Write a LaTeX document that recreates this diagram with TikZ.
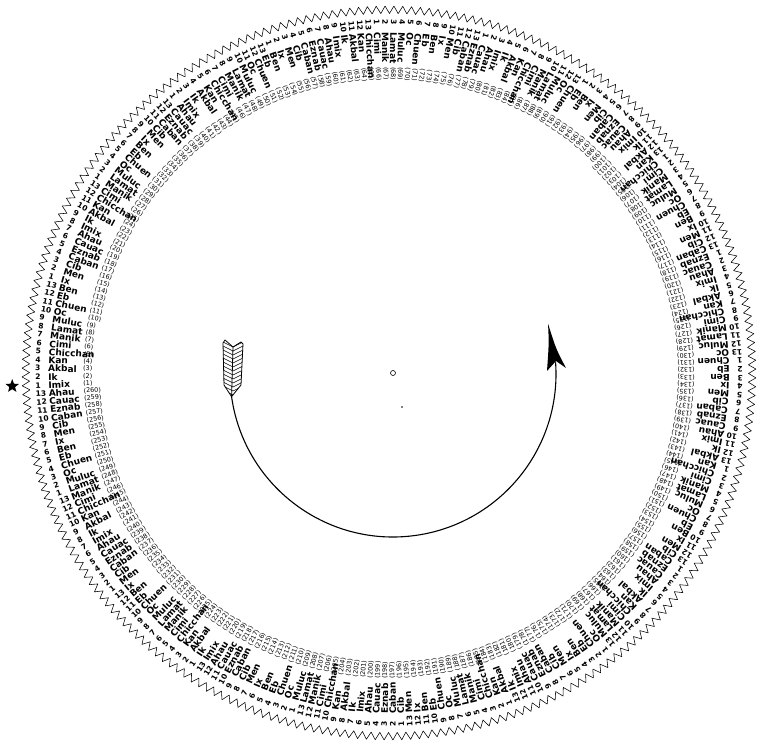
\documentclass[tikz,border=0pt]{standalone}
\usepackage{fontspec}
\setsansfont{DejaVu Sans}
\usetikzlibrary{shapes.geometric,calc}

\tikzset{
  coef/.style={font=\sffamily\bfseries\fontsize{7.5}{7.5}\selectfont, inner sep=0pt, anchor=west},
  dayname/.style={font=\sffamily\bfseries\fontsize{9}{9}\selectfont, inner sep=0pt, anchor=west},
  daycount/.style={font=\sffamily\fontsize{6.4}{6.4}\selectfont, inner sep=0pt, anchor=west},
}

\begin{document}
\begin{tikzpicture}[x=1pt, y=1pt, line cap=round, line join=round]
  \useasboundingbox (-389,-368) rectangle (372,373);
  % toothed rim
  \draw[line width=0.55pt] (182:367)
    \foreach \i in {1,...,260}{ -- ({182-(\i-0.5)*18/13}:359.5) -- ({182-\i*18/13}:367)} -- cycle;
  % the 260 days, read towards the centre
  \foreach \cyc in {0,...,12}{
    \foreach \nm [count=\j] in {Imix,Ik,Akbal,Kan,Chicchan,Cimi,Manik,Lamat,Muluc,Oc,Chuen,Eb,Ben,Ix,Men,Cib,Caban,Eznab,Cauac,Ahau}{
      \pgfmathtruncatemacro\k{20*\cyc+\j}
      \pgfmathtruncatemacro\c{mod(\k-1,13)+1}
      \pgfmathsetmacro\a{182-(\k-1)*18/13}
      \pgfmathsetmacro\r{\a+180}
      \node[coef, rotate=\r] (c\k) at (\a:354) {\c};
      \node[dayname, rotate=\r] (d\k) at (\a:341) {\nm};
      \node[daycount, rotate=\r] (n\k) at (\a:306) {(\k)};
    }
  }
  % starting day
  \node[star, star points=5, star point ratio=2.3, fill=black, minimum size=14pt, inner sep=0pt] (mark) at (182:377) {};
  % centre
  \coordinate (hub) at (4,-1);
  \draw[line width=0.6pt] (4,0) circle (2.5);
  \fill (13,-34) circle (0.8);
  % arrow of the count
  \coordinate (tail) at ($(hub)+(188:163)$);
  \draw[line width=1.1pt] (tail) arc[start angle=188, end angle=364, radius=163];
  \coordinate (tip) at ($(hub)+(18:163)$);
  \fill (tip) .. controls (160,30) .. (158,2) -- (167,12) -- (177,5) .. controls (167,24) .. cycle;
  % feathers
  \begin{scope}
    \path[clip] (tail) -- (-165,-12) -- (-166,30) -- (-164,33) -- (-156,26)
      -- (-148,31) -- (-146,29) -- (-148,-12) -- cycle;
    \foreach \y in {-26,-22,...,32}{
      \draw[line width=0.5pt] (-156,\y) -- (-168,\y+6);
      \draw[line width=0.5pt] (-156,\y) -- (-144,\y+6);
    }
  \end{scope}
  \draw[line width=0.8pt] (tail) -- (-165,-12) -- (-166,30) -- (-164,33) -- (-156,26)
    -- (-148,31) -- (-146,29) -- (-148,-12) -- cycle;
  \draw[line width=0.8pt] (tail) -- (-156,26);
\end{tikzpicture}
\end{document}
